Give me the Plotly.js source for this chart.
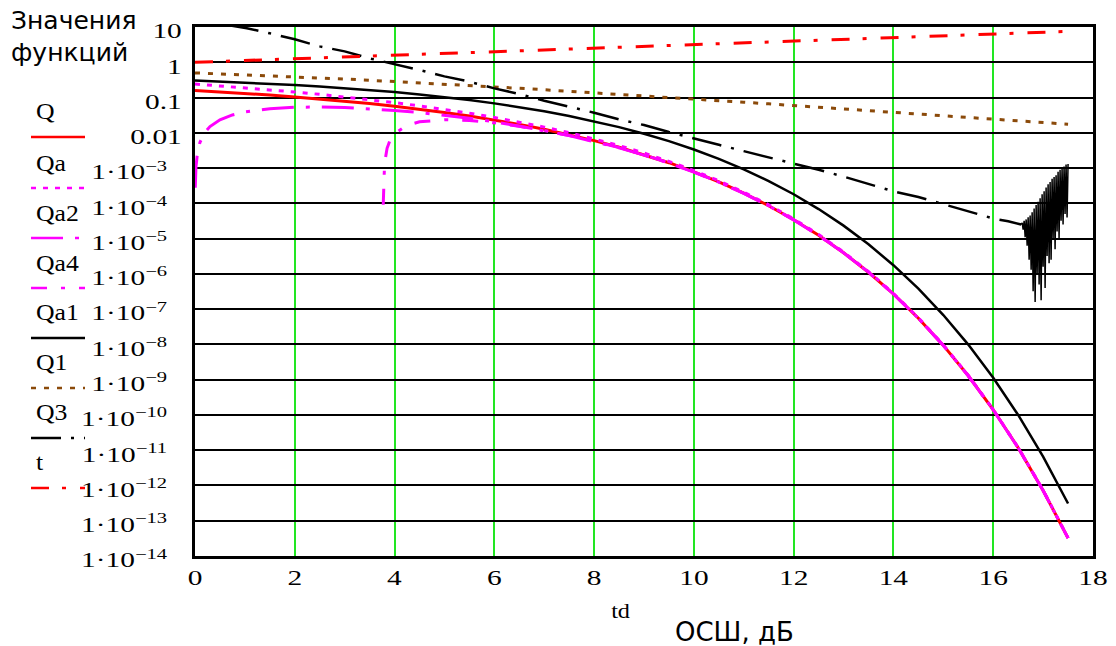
<!DOCTYPE html>
<html>
<head>
<meta charset="utf-8">
<script src="https://cdn.plot.ly/plotly-3.0.1.min.js"></script>
<style>
html,body{margin:0;padding:0;background:#fff;}
#chart{width:1116px;height:646px;}
</style>
</head>
<body>
<div id="chart"></div>
<script>
// ---------- data ----------
const seriesNames = ["Q","Qa","Qa2","Qa4","Qa1","Q1","Q3","t"];

const snrDb = [0,0.5,1,1.5,2,2.5,3,3.5,4,4.5,5,5.5,6,6.5,7,7.5,8,8.5,9,9.5,10,10.5,11,11.5,12,12.5,13,13.5,14,14.5,15,15.5,16,16.5,17,17.5];

const qExact = [0.1587,0.1447,0.1309,0.1173,0.1040,0.0912,0.0789,0.0673,0.0565,0.0466,0.0377,0.0298,0.0230,0.0173,0.0126,0.00886,0.00600,0.00390,0.00241,0.00142,7.83e-4,4.05e-4,1.94e-4,8.56e-5,3.43e-5,1.24e-5,3.97e-6,1.11e-6,2.69e-7,5.52e-8,9.36e-9,1.29e-9,1.40e-10,1.17e-11,7.22e-13,3.22e-14];

const qaUpper = [0.2420,0.2149,0.1895,0.1657,0.1435,0.1230,0.1041,0.0871,0.0717,0.0581,0.0462,0.0359,0.0273,0.0202,0.0145,0.01011,0.00677,0.00435,0.00267,0.00155,8.50e-4,4.36e-4,2.08e-4,9.09e-5,3.62e-5,1.30e-5,4.16e-6,1.16e-6,2.80e-7,5.70e-8,9.65e-9,1.32e-9,1.43e-10,1.19e-11,7.37e-13,3.27e-14];

const snrDbQa2 = [0.005,0.02,0.05,0.1,0.2,0.3,0.5,0.75,1,1.5,2,2.5,3,3.5,4,4.5,5,5.5,6,6.5,7,7.5,8,8.5,9,9.5,10,10.5,11,11.5,12,12.5,13,13.5,14,14.5,15,15.5,16,16.5,17,17.5];
const qa2 = [2.78e-4,1.11e-3,2.74e-3,5.39e-3,0.01039,0.01505,0.02337,0.03204,0.03897,0.04839,0.05295,0.05381,0.05195,0.04817,0.04315,0.03747,0.03156,0.02580,0.02045,0.01570,0.01164,0.008311,0.005700,0.003736,0.002331,0.001377,7.65e-4,3.97e-4,1.911e-4,8.45e-5,3.40e-5,1.228e-5,3.95e-6,1.110e-6,2.687e-7,5.50e-8,9.34e-9,1.287e-9,1.395e-10,1.164e-11,7.22e-13,3.21e-14];

const snrDbQa4 = [3.773,3.78,3.8,3.85,3.9,4,4.25,4.5,5,5.5,6,6.5,7,7.5,8,8.5,9,9.5,10,10.5,11,11.5,12,12.5,13,13.5,14,14.5,15,15.5,16,16.5,17,17.5];
const qa4 = [9.1e-5,4.29e-4,1.38e-3,3.62e-3,5.70e-3,9.39e-3,0.01627,0.02049,0.02351,0.02230,0.01913,0.01534,0.01164,0.008418,0.005806,0.003813,0.002378,0.001403,7.78e-4,4.03e-4,1.934e-4,8.54e-5,3.425e-5,1.237e-5,3.97e-6,1.116e-6,2.697e-7,5.52e-8,9.37e-9,1.289e-9,1.397e-10,1.166e-11,7.23e-13,3.22e-14];

const qa1 = [0.3033,0.2853,0.2665,0.2468,0.2264,0.2055,0.1844,0.1633,0.1424,0.1222,0.1029,0.0848,0.0683,0.0536,0.0408,0.0301,0.0213,0.0145,0.00942,0.00580,0.00337,0.00183,9.23e-4,4.28e-4,1.81e-4,6.88e-5,2.33e-5,6.89e-6,1.76e-6,3.80e-7,6.80e-8,9.89e-9,1.13e-9,9.98e-11,6.54e-12,3.08e-13];

const q1Vals = [0.5,0.4712,0.4427,0.4145,0.3869,0.3599,0.3339,0.3088,0.2848,0.2619,0.2403,0.2199,0.2008,0.1829,0.1663,0.1510,0.1368,0.1238,0.1118,0.1009,0.0909,0.0818,0.0736,0.0661,0.0594,0.0532,0.0477,0.0427,0.0383,0.0343,0.0307,0.0274,0.0245,0.0219,0.0196,0.0175];

const snrDbQ3 = [0.68,1.04,1.5,2,2.5,3,3.5,4,4.5,5,5.5,6,6.5,7,7.5,8,8.5,9,9.5,10,10.5,11,11.5,12,12.5,13,13.5,14,14.5,15,15.5,16,16.3,16.56];
const q3 = [11.2,9.23,6.61,4.47,2.82,2.04,1.29,0.90,0.603,0.398,0.282,0.182,0.126,0.0813,0.0562,0.0372,0.0240,0.0166,0.0105,0.00676,0.00457,0.00302,0.00204,0.00132,8.91e-4,5.75e-4,3.55e-4,2.19e-4,1.51e-4,9.33e-5,5.89e-5,3.72e-5,3.09e-5,2.5e-5];

const snrDbQ3Noise = [16.56,16.58,16.60,16.62,16.64,16.66,16.68,16.70,16.72,16.74,16.76,16.78,16.80,16.82,16.84,16.86,16.88,16.90,16.92,16.94,16.96,16.98,17.00,17.02,17.04,17.06,17.08,17.10,17.12,17.14,17.16,17.18,17.20,17.22,17.24,17.26,17.28,17.30,17.32,17.34,17.36,17.38,17.40,17.42,17.44,17.46,17.48,17.50];
const q3Noise = [2.5e-5,2.8e-5,1.8e-5,3.2e-5,1.1e-5,3.5e-5,6.3e-6,4.0e-5,2.5e-6,4.5e-5,1.3e-6,5.6e-5,3.2e-7,7.1e-5,1.6e-7,8.9e-5,1.0e-6,1.1e-4,5.0e-7,1.4e-4,1.8e-7,1.8e-4,1.6e-6,2.2e-4,4.0e-7,2.8e-4,3.2e-6,3.5e-4,2.0e-6,4.0e-4,2.5e-6,5.0e-4,1.0e-5,5.6e-4,5.0e-6,6.3e-4,1.6e-5,7.9e-4,1.0e-5,8.9e-4,3.2e-5,1.0e-3,2.5e-5,1.1e-3,5.0e-5,1.26e-3,4.0e-5,1.3e-3];

const tVals = [1,1.059,1.122,1.189,1.259,1.334,1.413,1.496,1.585,1.679,1.778,1.884,1.995,2.113,2.239,2.371,2.512,2.661,2.818,2.985,3.162,3.350,3.548,3.758,3.981,4.217,4.467,4.732,5.012,5.309,5.623,5.957,6.310,6.683,7.079,7.499];

const xTickVals = [0,2,4,6,8,10,12,14,16,18];
const yTickVals = [10,1,0.1,0.01,1e-3,1e-4,1e-5,1e-6,1e-7,1e-8,1e-9,1e-10,1e-11,1e-12,1e-13,1e-14];
const yTickText = ["10","1","0.1","0.01",
  "1·10<sup>−3</sup>","1·10<sup>−4</sup>","1·10<sup>−5</sup>","1·10<sup>−6</sup>","1·10<sup>−7</sup>",
  "1·10<sup>−8</sup>","1·10<sup>−9</sup>","1·10<sup>−10</sup>","1·10<sup>−11</sup>","1·10<sup>−12</sup>",
  "1·10<sup>−13</sup>","1·10<sup>−14</sup>"];

const xAxisVarLabel = "td";
const xAxisTitle = "ОСШ, дБ";
const yAxisTitleLines = ["Значения", "функций"];

// ---------- styles ----------
const RED = "#ff0000", MAG = "#ff00ff", BLK = "#000000", BRN = "#8b4a0a";
const styles = [
  {color: RED, dash: "solid", width: 3},
  {color: MAG, dash: "5px,7px", width: 3},
  {color: MAG, dash: "32px,12px,4px,12px", width: 3},
  {color: MAG, dash: "16px,14px,4px,14px", width: 3},
  {color: BLK, dash: "solid", width: 2.5},
  {color: BRN, dash: "5px,8px", width: 3},
  {color: BLK, dash: "30px,10px,3px,10px", width: 2.5},
  {color: RED, dash: "18px,13px,4px,14px", width: 3}
];

const seriesX = [snrDb, snrDb, snrDbQa2, snrDbQa4, snrDb, snrDb, snrDbQ3, snrDb];
const seriesY = [qExact, qaUpper, qa2, qa4, qa1, q1Vals, q3, tVals];

const traces = seriesNames.map((n, i) => ({
  type: "scatter", mode: "lines", name: n,
  x: seriesX[i], y: seriesY[i],
  line: {color: styles[i].color, dash: styles[i].dash, width: styles[i].width},
  showlegend: false, hoverinfo: "skip"
}));
// noisy tail of Q3 drawn solid
traces.splice(7, 0, {
  type: "scatter", mode: "lines", name: "Q3",
  x: snrDbQ3Noise, y: q3Noise,
  line: {color: BLK, width: 1.5}, showlegend: false, hoverinfo: "skip"
});

// ---------- layout geometry ----------
const PL = 195, PR = 1093, PT = 27, PB = 556;
const px = v => (v - PL) / (PR - PL);
const py = v => (PB - v) / (PB - PT);

const serif = "Liberation Serif";
const sans = "DejaVu Sans";

const legendNameY = [112,163,213,263,312,362,412,462];
const legendLineY = [137,188,238,288,338,388,438,488];

const annotations = [];
const shapes = [];
seriesNames.forEach((n, i) => {
  annotations.push({
    xref: "paper", yref: "paper", x: px(34), y: py(legendNameY[i]),
    xanchor: "left", yanchor: "middle", showarrow: false, text: n,
    font: {family: serif, size: 23, color: "#000"}
  });
  shapes.push({
    type: "line", xref: "paper", yref: "paper",
    x0: px(31), x1: px(85), y0: py(legendLineY[i]), y1: py(legendLineY[i]),
    line: {color: styles[i].color, dash: styles[i].dash, width: 2.5}
  });
});
annotations.push({
  xref: "paper", yref: "paper", x: px(620), y: py(611), xanchor: "center", yanchor: "middle",
  showarrow: false, text: xAxisVarLabel, font: {family: serif, size: 22, color: "#000"}
});
annotations.push({
  xref: "paper", yref: "paper", x: px(734), y: py(632), xanchor: "center", yanchor: "middle",
  showarrow: false, text: xAxisTitle, font: {family: sans, size: 26, color: "#000"}
});
annotations.push({
  xref: "paper", yref: "paper", x: px(9), y: py(21), xanchor: "left", yanchor: "middle",
  showarrow: false, text: yAxisTitleLines[0], font: {family: sans, size: 25, color: "#000"}
});
annotations.push({
  xref: "paper", yref: "paper", x: px(9), y: py(52), xanchor: "left", yanchor: "middle",
  showarrow: false, text: yAxisTitleLines[1], font: {family: sans, size: 25, color: "#000"}
});

const layout = {
  width: 1116, height: 646,
  margin: {l: PL, r: 1116 - PR, t: PT, b: 646 - PB, pad: 0},
  paper_bgcolor: "#fff", plot_bgcolor: "#fff",
  showlegend: false,
  xaxis: {
    range: [0, 18], tickvals: xTickVals, ticktext: xTickVals.map(String),
    showgrid: true, gridcolor: "#22e622", gridwidth: 2,
    showline: true, mirror: true, linecolor: "#000", linewidth: 3,
    zeroline: false, ticks: "", ticklabelstandoff: 1,
    tickfont: {family: serif, size: 21, color: "#000"}
  },
  yaxis: {
    type: "log", range: [-14, 1], tickvals: yTickVals,
    ticktext: yTickText.map(t => t.indexOf("<sup>") >= 0 ? t + "\u00a0\u00a0" : t),
    showgrid: true, gridcolor: "#000", gridwidth: 2,
    showline: true, mirror: true, linecolor: "#000", linewidth: 3,
    zeroline: false, ticks: "", ticklabelstandoff: 6, ticklabelshift: 4,
    tickfont: {family: serif, size: 21, color: "#000"}
  },
  annotations: annotations,
  shapes: shapes
};

// widen serif texts horizontally (the reference's serif lettering is drawn wide)
function stretchText(el, s, mode) {
  const bb = el.getBBox();
  const ox = mode === "left" ? bb.x : mode === "right" ? bb.x + bb.width : bb.x + bb.width / 2;
  const prev = el.getAttribute("transform") || "";
  el.setAttribute("transform", prev + " translate(" + ox + ",0) scale(" + s + ",1) translate(" + (-ox) + ",0)");
}

Plotly.newPlot("chart", traces, layout, {displayModeBar: false, staticPlot: true}).then(gd => {
  gd.querySelectorAll(".xtick text").forEach(el => stretchText(el, 1.4, "center"));
  gd.querySelectorAll(".ytick text").forEach(el => stretchText(el, 1.4, "right"));
  for (let i = 0; i < seriesNames.length; i++) {
    const el = gd.querySelector('.annotation[data-index="' + i + '"] text');
    if (el) stretchText(el, 1.12, "left");
  }
  const td = gd.querySelector('.annotation[data-index="' + seriesNames.length + '"] text');
  if (td) stretchText(td, 1.1, "center");
});
</script>
</body>
</html>
